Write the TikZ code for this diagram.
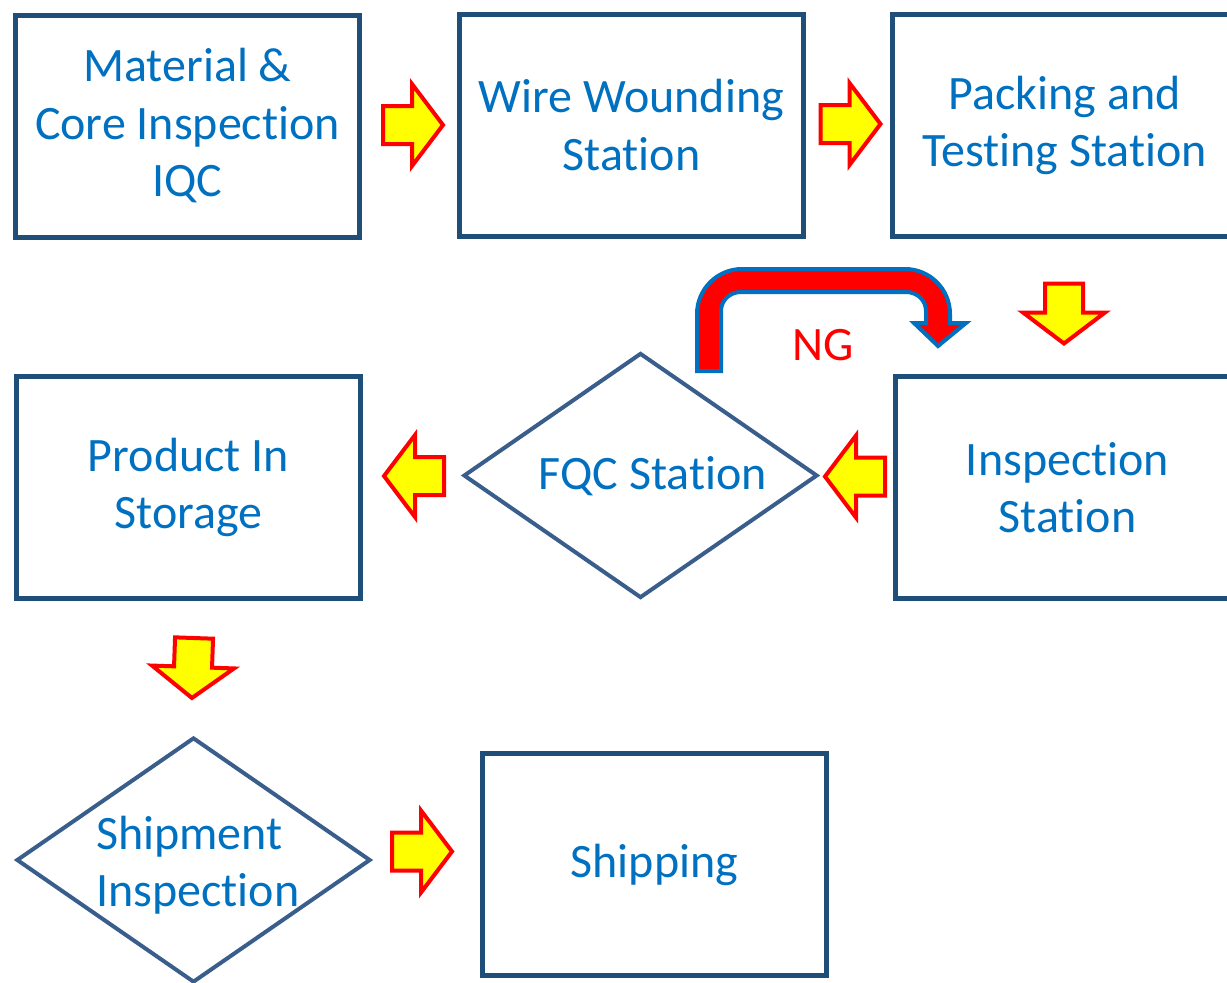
\documentclass[tikz,border=0pt]{standalone}
\usepackage{fontspec}
\setmainfont{Carlito}[RawFeature=-liga]
\usetikzlibrary{shapes.geometric}
\definecolor{boxblue}{HTML}{1F4E79}
\definecolor{diablue}{HTML}{3A5E8C}
\definecolor{txtblue}{HTML}{0070C0}
\definecolor{ngred}{HTML}{FF0000}
\definecolor{arryellow}{HTML}{FFFF00}
\begin{document}
\begin{tikzpicture}[x=1pt,y=-1pt,
  bigfont/.style={font=\fontsize{48}{57.5}\selectfont},
  box/.style={draw=boxblue, line width=5pt, minimum width=344pt, minimum height=222pt,
    inner sep=0pt, text=txtblue, align=center, bigfont},
  dia/.style={draw=diablue, line width=4pt, shape=diamond, minimum width=354pt,
    minimum height=245pt, inner sep=0pt},
  txt/.style={text=txtblue, inner sep=0pt, bigfont},
  blockarrow/.pic={\draw[draw=ngred, line width=4pt, fill=arryellow]
    (-30,-19) -- (-1,-19) -- (-1,-41) -- (30,0) -- (-1,41) -- (-1,19) -- (-30,19) -- cycle;}
]
\useasboundingbox (0,0) rectangle (1227,983);

% boxes
\node[box] (iqc) at (187.5,126) {Material \&\\Core Inspection\\IQC};
\node[box] (wire) at (631.5,125) {Wire Wounding\\Station};
\node[box] (pack) at (1064.5,125.5) {Packing and\\Testing Station};
\node[box] (insp) at (1067.5,487.5) {Inspection\\Station};
\node[box] (stor) at (188.5,487.5) {Product In\\Storage};
\node[box] (ship) at (654.5,864.5) {Shipping};

% diamonds
\node[dia] (fqc) at (640.5,475.5) {};
\node[txt] (fqct) at (653,476) {FQC Station};
\node[dia] (shpi) at (193.5,860) {};
\node[txt, anchor=west, align=left] (shpit) at (96,865) {Shipment\\Inspection};

% block arrows
\pic (a1) at (413,125) {blockarrow};
\pic (a2) at (850.5,124) {blockarrow};
\pic[rotate=-90] (a3) at (1064,313.5) {blockarrow};
\pic[rotate=180] (a4) at (855,476.5) {blockarrow};
\pic[rotate=180] (a5) at (414,476) {blockarrow};
\pic[rotate=-92] (a6) at (193,668) {blockarrow};
\pic (a7) at (422,851.5) {blockarrow};

% NG return arrow
\draw[draw=txtblue, line width=4pt, fill=ngred, line join=miter]
  (697,371) -- (697,314) .. controls (697,289.2) and (717.2,269) .. (742,269)
  -- (905,269) .. controls (929.8,269) and (950,289.2) .. (950,314)
  -- (950,323) -- (966,323) -- (938,346) -- (914,323) -- (926,323)
  -- (926,311) .. controls (926,300) and (917,292) .. (906,292)
  -- (741,292) .. controls (730,292) and (721,300) .. (721,311)
  -- (721,371) -- cycle;
\node[text=ngred, inner sep=0pt, bigfont] (ng) at (823,345) {NG};
\end{tikzpicture}
\end{document}
